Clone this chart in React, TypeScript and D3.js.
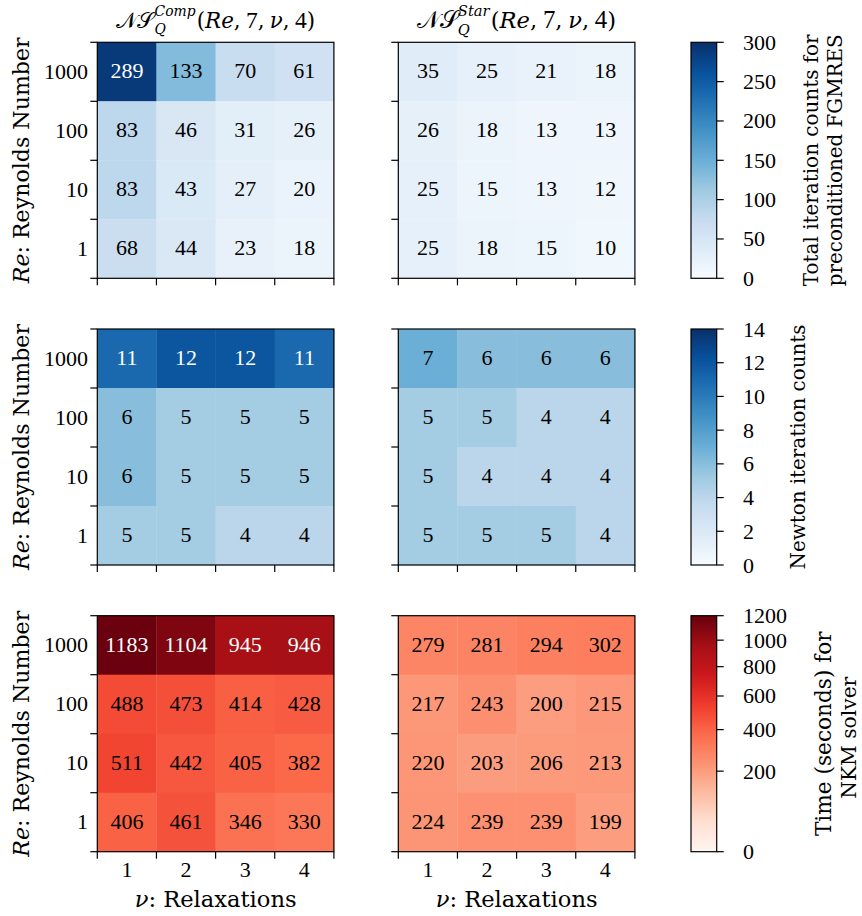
import React, { useEffect, useRef } from "react";
import * as d3 from "d3";

// ---------- data ----------
const reynolds = ["1000", "100", "10", "1"];
const relaxations = ["1", "2", "3", "4"];
const methods = ["Comp", "Star"];

const gmresComp = [
  [289, 133, 70, 61],
  [83, 46, 31, 26],
  [83, 43, 27, 20],
  [68, 44, 23, 18],
];
const gmresStar = [
  [35, 25, 21, 18],
  [26, 18, 13, 13],
  [25, 15, 13, 12],
  [25, 18, 15, 10],
];
const newtonComp = [
  [11, 12, 12, 11],
  [6, 5, 5, 5],
  [6, 5, 5, 5],
  [5, 5, 4, 4],
];
const newtonStar = [
  [7, 6, 6, 6],
  [5, 5, 4, 4],
  [5, 4, 4, 4],
  [5, 5, 5, 4],
];
const timeComp = [
  [1183, 1104, 945, 946],
  [488, 473, 414, 428],
  [511, 442, 405, 382],
  [406, 461, 346, 330],
];
const timeStar = [
  [279, 281, 294, 302],
  [217, 243, 200, 215],
  [220, 203, 206, 213],
  [224, 239, 239, 199],
];

const gmresTicks = [0, 50, 100, 150, 200, 250, 300];
const newtonTicks = [0, 2, 4, 6, 8, 10, 12, 14];
const timeTicks = [0, 200, 400, 600, 800, 1000, 1200];

const gmresLabel = ["Total iteration counts for", "preconditioned FGMRES"];
const newtonLabel = ["Newton iteration counts"];
const timeLabel = ["Time (seconds) for", "NKM solver"];

const bluesColors = ["#f7fbff", "#deebf7", "#c6dbef", "#9ecae1", "#6baed6", "#4292c6", "#2171b5", "#08519c", "#08306b"];
const redsColors = ["#fff5f0", "#fee0d2", "#fcbba1", "#fc9272", "#fb6a4a", "#ef3b2c", "#cb181d", "#a50f15", "#67000d"];

// ---------- layout ----------
const W = 862;
const H = 916;
const NUMFONT = "'Liberation Serif', serif";
const TXTFONT = "'DejaVu Serif', 'Liberation Serif', serif";
const NFS = 22;
const TFS = 20;
const colLeft = [97.3, 398.3];
const mapW = 236.6;
const rowTop = [42.3, 329, 615.7];
const mapH = 236;
const cbX = 691;
const cbW = 25.7;
const TICK = 7;

export default function App() {
  const ref = useRef<SVGSVGElement | null>(null);

  useEffect(() => {
    const svg = d3.select(ref.current);
    svg.selectAll("*").remove();

    const blues = d3.piecewise(d3.interpolateRgb, bluesColors);
    const reds = d3.piecewise(d3.interpolateRgb, redsColors);

    // scale a text's font-size so its width matches the reference width
    const fit = (sel: any, target: number) => {
      const node = sel.node() as SVGTextElement;
      const w = node.getComputedTextLength();
      if (w > 0) {
        const fs = parseFloat(sel.attr("font-size"));
        sel.attr("font-size", (fs * target) / w);
      }
      return sel;
    };

    const rows = [
      {
        data: [gmresComp, gmresStar],
        norm: d3.scaleLinear().domain([0, 300]).range([0, 1]),
        cmap: blues,
        ticks: gmresTicks,
        label: gmresLabel,
        labelX: [818, 842],
        labelW: [252, 252],
        labelDy: [0, 0],
      },
      {
        data: [newtonComp, newtonStar],
        norm: d3.scaleLinear().domain([0, 14]).range([0, 1]),
        cmap: blues,
        ticks: newtonTicks,
        label: newtonLabel,
        labelX: [805],
        labelW: [245],
        labelDy: [0],
      },
      {
        data: [timeComp, timeStar],
        norm: d3.scalePow().exponent(0.6).domain([0, 1200]).range([0, 1]),
        cmap: reds,
        ticks: timeTicks,
        label: timeLabel,
        labelX: [831, 856],
        labelW: [205, 122],
        labelDy: [0, 4],
      },
    ];

    const defs = svg.append("defs");

    rows.forEach((row, ri) => {
      const top = rowTop[ri];
      const y = d3.scaleBand<string>().domain(reynolds).range([top, top + mapH]);
      row.data.forEach((mat, ci) => {
        const left = colLeft[ci];
        const x = d3.scaleBand<string>().domain(relaxations).range([left, left + mapW]);
        const g = svg.append("g");
        mat.forEach((vals, r) => {
          vals.forEach((v, c) => {
            const t = Math.max(0, Math.min(1, row.norm(v)));
            g.append("rect")
              .attr("x", x(relaxations[c])!)
              .attr("y", y(reynolds[r])!)
              .attr("width", x.bandwidth() + 0.3)
              .attr("height", y.bandwidth() + 0.3)
              .attr("fill", row.cmap(t));
            g.append("text")
              .attr("x", x(relaxations[c])! + x.bandwidth() / 2)
              .attr("y", y(reynolds[r])! + y.bandwidth() / 2 + 6.5)
              .attr("text-anchor", "middle")
              .attr("font-family", NUMFONT)
              .attr("font-size", NFS)
              .attr("fill", t > 0.7 ? "#ffffff" : "#000000")
              .text(String(v));
          });
        });
        // frame
        g.append("rect")
          .attr("x", left)
          .attr("y", top)
          .attr("width", mapW)
          .attr("height", mapH)
          .attr("fill", "none")
          .attr("stroke", "#000")
          .attr("stroke-width", 1.2);
        // ticks at cell boundaries
        const yb = d3.range(5).map((i) => top + (i * mapH) / 4);
        yb.forEach((yy) => {
          g.append("line")
            .attr("x1", left - TICK)
            .attr("x2", left)
            .attr("y1", yy)
            .attr("y2", yy)
            .attr("stroke", "#000")
            .attr("stroke-width", 1.2);
        });
        const xb = d3.range(5).map((i) => left + (i * mapW) / 4);
        xb.forEach((xx) => {
          g.append("line")
            .attr("x1", xx)
            .attr("x2", xx)
            .attr("y1", top + mapH)
            .attr("y2", top + mapH + TICK)
            .attr("stroke", "#000")
            .attr("stroke-width", 1.2);
        });
        // y tick labels
        if (ci === 0) {
          reynolds.forEach((lab) => {
            g.append("text")
              .attr("x", 88)
              .attr("y", y(lab)! + y.bandwidth() / 2 + 7)
              .attr("text-anchor", "end")
              .attr("font-family", NUMFONT)
              .attr("font-size", NFS)
              .text(lab);
          });
          const yl = g
            .append("text")
            .attr("transform", `translate(29,${top + mapH / 2}) rotate(-90)`)
            .attr("text-anchor", "middle")
            .attr("font-family", TXTFONT)
            .attr("font-size", TFS);
          yl.append("tspan").attr("font-style", "italic").text("Re");
          yl.append("tspan").text(": Reynolds Number");
          fit(yl, 246);
        }
        // x tick labels
        if (ri === 2) {
          relaxations.forEach((lab) => {
            g.append("text")
              .attr("x", x(lab)! + x.bandwidth() / 2)
              .attr("y", 877)
              .attr("text-anchor", "middle")
              .attr("font-family", NUMFONT)
              .attr("font-size", NFS)
              .text(lab);
          });
          const xl = g
            .append("text")
            .attr("x", left + mapW / 2)
            .attr("y", 907)
            .attr("text-anchor", "middle")
            .attr("font-family", TXTFONT)
            .attr("font-size", TFS);
          xl.append("tspan").attr("font-style", "italic").text("ν");
          xl.append("tspan").text(": Relaxations");
          fit(xl, 162);
        }
        // titles
        if (ri === 0) {
          const tg = g.append("g");
          const inner = tg.append("g");
          let cx = 0;
          const add = (txt: string, italic: boolean, size = TFS, dy = 0, fam = TXTFONT) => {
            const t = inner
              .append("text")
              .attr("x", cx)
              .attr("y", dy)
              .attr("font-family", fam)
              .attr("font-size", size)
              .attr("font-style", italic ? "italic" : "normal")
              .text(txt);
            return (t.node() as SVGTextElement).getComputedTextLength();
          };
          const gap = 5;
          cx += add("𝒩𝒮", false, TFS + 1);
          const w1 = add(methods[ci], true, 13, -11);
          const w2 = add("Q", true, 13, 6);
          cx += Math.max(w1, w2) + 1;
          cx += add("(", false);
          cx += add("Re", true);
          cx += add(",", false) + gap;
          cx += add("7", false, NFS, 0, NUMFONT);
          cx += add(",", false) + gap;
          cx += add("ν", true);
          cx += add(",", false) + gap;
          cx += add("4", false, NFS, 0, NUMFONT);
          cx += add(")", false);
          const s = 199 / cx;
          inner.attr("transform", `scale(${s})`);
          tg.attr("transform", `translate(${left + mapW / 2 - (cx * s) / 2},28)`);
        }
      });

      // colorbar
      const gid = `cb${ri}`;
      const grad = defs
        .append("linearGradient")
        .attr("id", gid)
        .attr("x1", 0)
        .attr("y1", 1)
        .attr("x2", 0)
        .attr("y2", 0);
      d3.range(41).forEach((i) => {
        const t = i / 40;
        grad.append("stop").attr("offset", t).attr("stop-color", row.cmap(t));
      });
      const cy = d3.scaleLinear().domain([0, 1]).range([top + mapH, top]);
      svg
        .append("rect")
        .attr("x", cbX)
        .attr("y", top)
        .attr("width", cbW)
        .attr("height", mapH)
        .attr("fill", `url(#${gid})`)
        .attr("stroke", "#000")
        .attr("stroke-width", 1.2);
      row.ticks.forEach((tv) => {
        const yy = cy(row.norm(tv));
        svg
          .append("line")
          .attr("x1", cbX + cbW)
          .attr("x2", cbX + cbW + TICK)
          .attr("y1", yy)
          .attr("y2", yy)
          .attr("stroke", "#000")
          .attr("stroke-width", 1.2);
        svg
          .append("text")
          .attr("x", 743)
          .attr("y", yy + 7.5)
          .attr("font-family", NUMFONT)
          .attr("font-size", NFS)
          .text(String(tv));
      });
      row.label.forEach((line, li) => {
        const t = svg
          .append("text")
          .attr("transform", `translate(${row.labelX[li]},${top + mapH / 2 + row.labelDy[li]}) rotate(-90)`)
          .attr("text-anchor", "middle")
          .attr("font-family", TXTFONT)
          .attr("font-size", TFS)
          .text(line);
        fit(t, row.labelW[li]);
      });
    });
  }, []);

  return (
    <svg
      ref={ref}
      width={W}
      height={H}
      style={{ position: "absolute", left: 0, top: 0, background: "#fff" }}
    />
  );
}
